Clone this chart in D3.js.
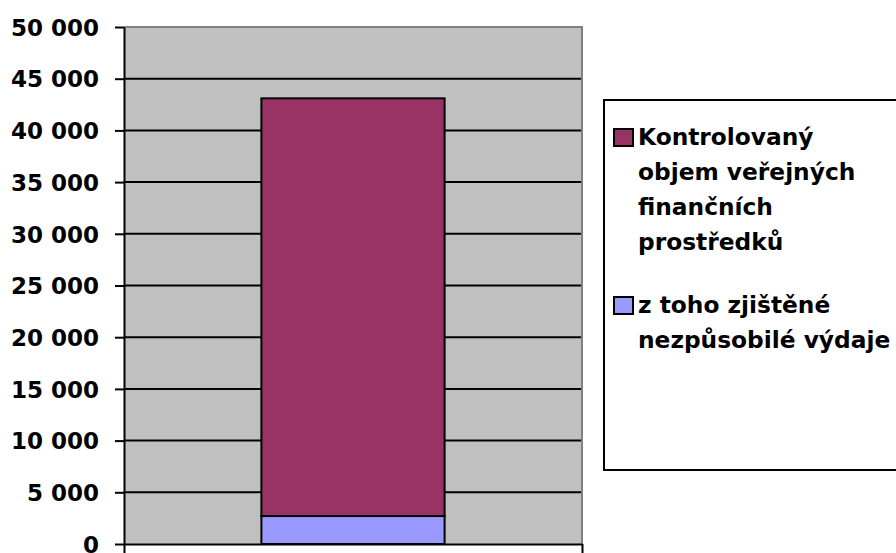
<!DOCTYPE html>
<html>
<head>
<meta charset="utf-8">
<script src="https://cdn.jsdelivr.net/npm/d3@7"></script>
<style>
  body { margin: 0; background: #fff; }
  text { font-family: "DejaVu Sans", sans-serif; font-weight: bold; fill: #000; }
</style>
</head>
<body>
<svg width="896" height="553"></svg>
<script>
// data
const categories       = ["2010"];
const totalVolume      = [43100];   // Kontrolovaný objem veřejných finančních prostředků
const ineligible       = [2700];    // z toho zjištěné nezpůsobilé výdaje
const yTicks           = [0, 5000, 10000, 15000, 20000, 25000, 30000, 35000, 40000, 45000, 50000];
const seriesNames      = ["Kontrolovaný objem veřejných finančních prostředků", "z toho zjištěné nezpůsobilé výdaje"];
const legendLines      = [["Kontrolovaný", "objem veřejných", "finančních", "prostředků"], ["z toho zjištěné", "nezpůsobilé výdaje"]];
const seriesColors     = ["#993366", "#9999FF"];

const svg    = d3.select("svg"),
      margin = {top: 27, left: 124},
      width  = 458,
      height = 517,
      g      = svg.append("g").attr("transform", `translate(${margin.left},${margin.top})`);

const x = d3.scaleBand().domain(categories).range([0, width]).paddingInner(3 / 7).paddingOuter(3 / 7);
const y = d3.scaleLinear().domain([0, 50000]).range([height, 0]);
const fmt = d3.formatLocale({decimal: ",", thousands: " ", grouping: [3], currency: ["", ""]}).format(",");

// plot area
g.append("rect").attr("width", width).attr("height", height).attr("fill", "#C0C0C0");

// gridlines
g.selectAll(".grid")
  .data(yTicks.filter(d => d > 0 && d < 50000))
  .enter().append("line")
    .attr("x1", 0).attr("x2", width)
    .attr("y1", d => y(d)).attr("y2", d => y(d))
    .attr("stroke", "#000").attr("stroke-width", 2);

// top and right border
g.append("path")
  .attr("d", `M0,${y(50000)}H${width}V${height}`)
  .attr("fill", "none").attr("stroke", "#808080").attr("stroke-width", 2);

// bars: subset at the bottom, rest of the controlled volume above
const segments = [];
categories.forEach((c, i) => {
  segments.push({cat: c, y0: ineligible[i], y1: totalVolume[i], color: seriesColors[0]});
  segments.push({cat: c, y0: 0, y1: ineligible[i], color: seriesColors[1]});
});
g.selectAll(".bar")
  .data(segments)
  .enter().append("rect")
    .attr("class", "bar")
    .attr("x", d => x(d.cat))
    .attr("y", d => y(d.y1))
    .attr("width", x.bandwidth())
    .attr("height", d => y(d.y0) - y(d.y1))
    .attr("fill", d => d.color)
    .attr("stroke", "#000").attr("stroke-width", 2);

// y axis
const yAxis = g.append("g")
  .call(d3.axisLeft(y).tickValues(yTicks).tickFormat(fmt).tickSize(9).tickSizeOuter(0).tickPadding(16));
yAxis.select(".domain").attr("stroke", "#000").attr("stroke-width", 2);
yAxis.selectAll(".tick line").attr("stroke", "#000").attr("stroke-width", 2);
yAxis.selectAll(".tick text").style("font-family", "DejaVu Sans").style("font-weight", "bold").style("font-size", "23px").attr("dy", "0.36em");

// x axis (category boundaries)
const xEdges = d3.scaleLinear().domain([0, categories.length]).range([0, width]);
const xAxis = g.append("g")
  .attr("transform", `translate(0,${height})`)
  .call(d3.axisBottom(xEdges).tickValues(d3.range(categories.length + 1)).tickFormat("").tickSize(9).tickSizeOuter(0));
xAxis.select(".domain").attr("stroke", "#000").attr("stroke-width", 2);
xAxis.selectAll(".tick line").attr("stroke", "#000").attr("stroke-width", 2);

// legend
const legend = svg.append("g").attr("transform", "translate(604,100)");
legend.append("rect")
  .attr("width", 320).attr("height", 370)
  .attr("fill", "#fff").attr("stroke", "#000").attr("stroke-width", 2);

const itemTop = [45, 213];
const lineH = 35;
seriesNames.forEach((name, i) => {
  const item = legend.append("g").attr("transform", `translate(0,${itemTop[i]})`);
  item.append("rect")
    .attr("x", 10).attr("y", -16).attr("width", 19).attr("height", 17)
    .attr("fill", seriesColors[i]).attr("stroke", "#000").attr("stroke-width", 2);
  item.append("text")
    .attr("x", 34).attr("y", 0)
    .style("font-size", "23.3px")
    .selectAll("tspan")
    .data(legendLines[i])
    .enter().append("tspan")
      .attr("x", 34)
      .attr("y", (d, j) => j * lineH)
      .text(d => d);
});
</script>
</body>
</html>
